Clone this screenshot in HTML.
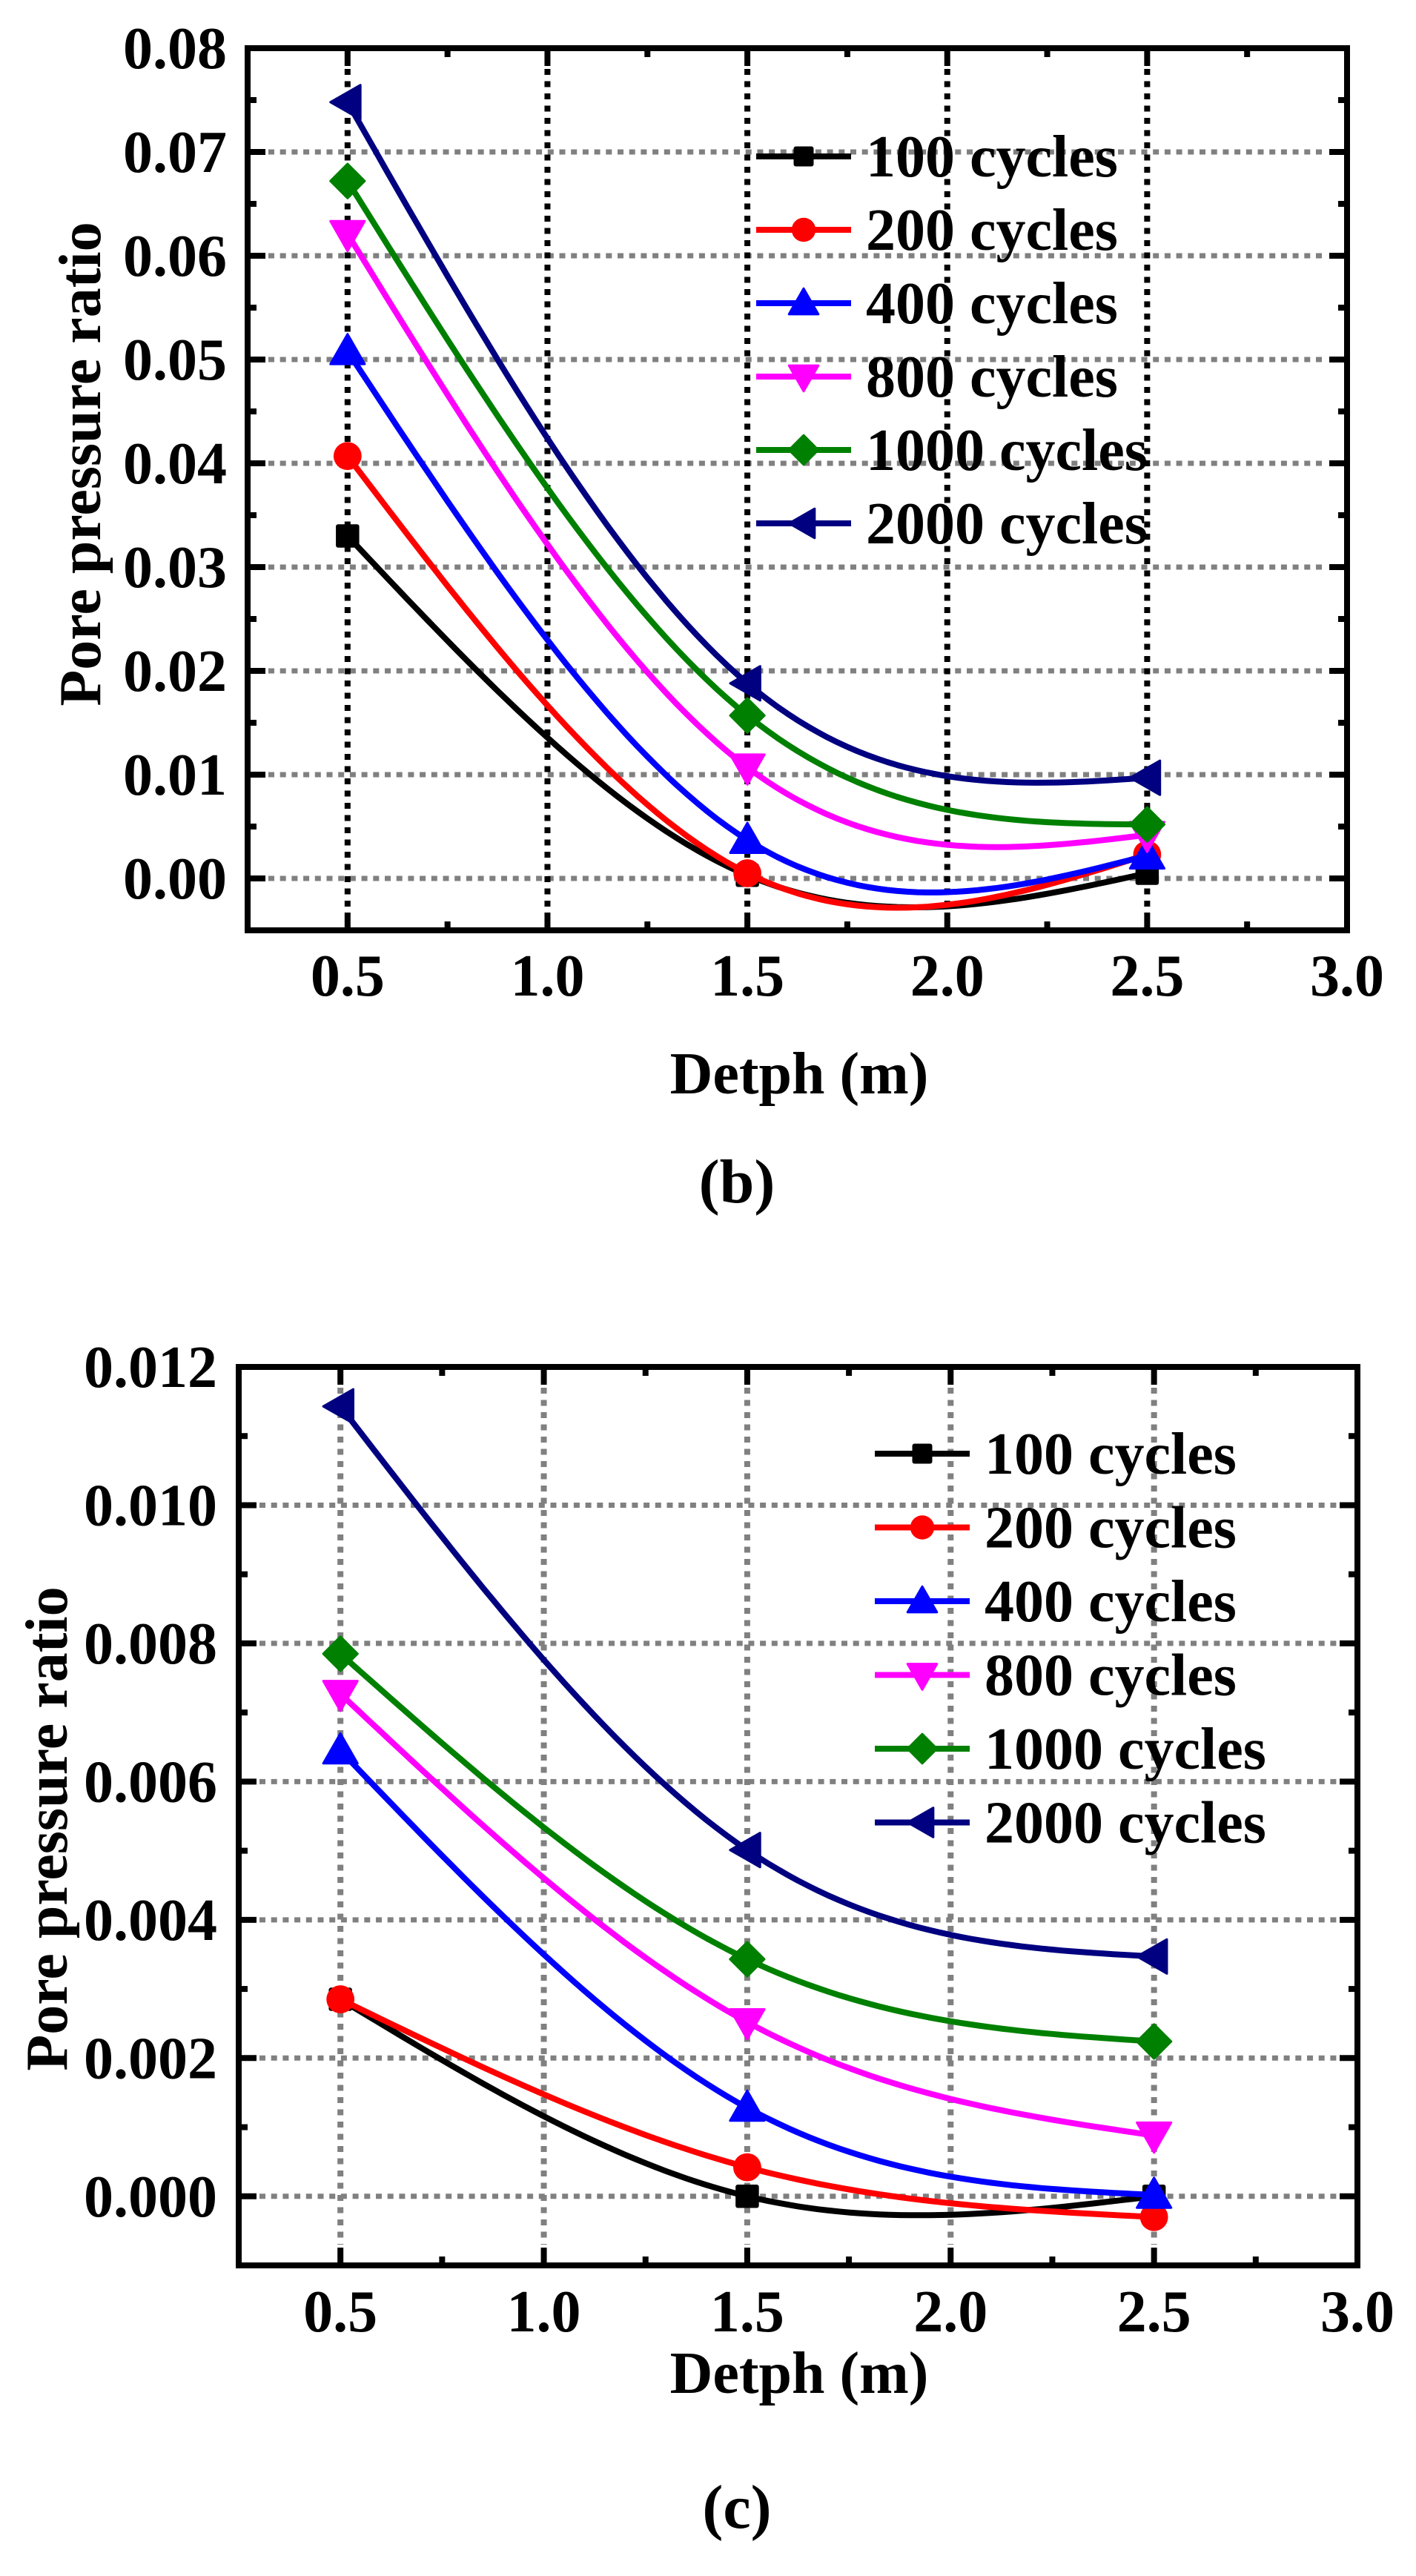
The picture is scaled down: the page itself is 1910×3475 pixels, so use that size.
<!DOCTYPE html>
<html><head><meta charset="utf-8"><style>
html,body{margin:0;padding:0;background:#fff;}
svg{display:block;}
text{font-family:"Liberation Serif",serif;font-weight:bold;fill:#000;}
</style></head><body>
<svg id="svg" width="1910" height="3475" viewBox="0 0 1910 3475" xmlns="http://www.w3.org/2000/svg"></svg>
<script>
const depths = [0.5, 1.5, 2.5];
const seriesNames = ["100 cycles","200 cycles","400 cycles","800 cycles","1000 cycles","2000 cycles"];
const b100 = [0.0330, 0.0003, 0.0005];
const b200 = [0.0407, 0.0005, 0.0023];
const b400 = [0.0508, 0.0037, 0.0022];
const b800 = [0.0621, 0.0107, 0.0042];
const b1000 = [0.0672, 0.0157, 0.0052];
const b2000 = [0.0748, 0.0188, 0.0097];
const c100 = [0.00285, 0.0000, 0.0000];
const c200 = [0.00285, 0.00042, -0.0003];
const c400 = [0.00645, 0.00128, 0.00002];
const c800 = [0.00727, 0.00252, 0.00088];
const c1000 = [0.00785, 0.00343, 0.00224];
const c2000 = [0.01143, 0.00501, 0.00347];
const xTicks = [0.5, 1.0, 1.5, 2.0, 2.5, 3.0];
const bYTicks = [0.00, 0.01, 0.02, 0.03, 0.04, 0.05, 0.06, 0.07, 0.08];
const cYTicks = [0.000, 0.002, 0.004, 0.006, 0.008, 0.010, 0.012];

const NS = "http://www.w3.org/2000/svg";
const svg = document.getElementById("svg");
const colors = ["#000000","#ff0000","#0000ff","#ff00ff","#008000","#000080"];
const markers = ["square","circle","up","down","diamond","left"];

function el(tag, attrs, parent) {
  const e = document.createElementNS(NS, tag);
  for (const k in attrs) e.setAttribute(k, attrs[k]);
  (parent || svg).appendChild(e);
  return e;
}

function spline(xs, ys, n) {
  const h = xs[1] - xs[0];
  const M1 = 6 * (ys[0] - 2 * ys[1] + ys[2]) / (4 * h * h);
  const M = [0, M1, 0];
  const pts = [];
  for (let i = 0; i < 2; i++) {
    for (let k = 0; k <= n; k++) {
      const t = k / n;
      const x = xs[i] + t * h;
      const y = (1 - t) * ys[i] + t * ys[i + 1] + (((1 - t) ** 3 - (1 - t)) * M[i] + (t ** 3 - t) * M[i + 1]) * h * h / 6;
      pts.push([x, y]);
    }
  }
  return pts;
}

function marker(g, type, cx, cy, color, s) {
  let m;
  if (type === "square") m = el("rect", {x: cx - s * 0.75, y: cy - s * 0.75, width: s * 1.5, height: s * 1.5, rx: 3, fill: color}, g);
  else if (type === "circle") m = el("circle", {cx: cx, cy: cy, r: s * 0.9, fill: color}, g);
  else {
    const r = s * 1.1;
    let p;
    if (type === "up") p = [[cx, cy - r], [cx + r, cy + r * 0.75], [cx - r, cy + r * 0.75]];
    if (type === "down") p = [[cx, cy + r], [cx + r, cy - r * 0.75], [cx - r, cy - r * 0.75]];
    if (type === "left") p = [[cx - r, cy], [cx + r * 0.75, cy - r], [cx + r * 0.75, cy + r]];
    if (type === "diamond") p = [[cx, cy - r], [cx + r, cy], [cx, cy + r], [cx - r, cy]];
    m = el("polygon", {points: p.map(q => q.join(",")).join(" "), fill: color, "stroke-linejoin": "round", stroke: color, "stroke-width": 3}, g);
  }
  return m;
}

function chart(cfg) {
  const g = el("g", {});
  
  
  const {L, R, T, B, xmin, xmax, ymin, ymax} = cfg;
  const X = v => L + (v - xmin) / (xmax - xmin) * (R - L);
  const Y = v => B - (v - ymin) / (ymax - ymin) * (B - T);
  const gg = el("g", {}, g);
  
  
  cfg.yTicks.forEach(v => {
    if (v >= ymax - 1e-9) return;
    const ln = el("line", {x1: L + 28, x2: R - 28, y1: Y(v), y2: Y(v), stroke: "#808080", "stroke-width": 7, "stroke-dasharray": "8 7.7"}, gg);
    
    
  });
  xTicks.forEach(v => {
    if (v >= xmax - 1e-9) return;
    const ln = el("line", {x1: X(v), x2: X(v), y1: T + 28, y2: B - 28, stroke: cfg.vgrid, "stroke-width": 8, "stroke-dasharray": "8 8.5"}, gg);
    
    
  });
  const tk = el("g", {stroke: "#000", "stroke-width": 8}, g);
  
  
  for (let v = xmin; v <= xmax + 1e-9; v += 0.25) {
    const major = Math.abs(v * 2 - Math.round(v * 2)) < 1e-6;
    const len = major ? 24 : 12;
    el("line", {x1: X(v), x2: X(v), y1: B, y2: B - len}, tk);
    el("line", {x1: X(v), x2: X(v), y1: T, y2: T + len}, tk);
  }
  const step = cfg.yTicks[1] - cfg.yTicks[0];
  for (let v = cfg.yTicks[0] - step / 2; v <= ymax + 1e-9; v += step / 2) {
    if (v < ymin - 1e-9) continue;
    const major = Math.abs((v - cfg.yTicks[0]) / step - Math.round((v - cfg.yTicks[0]) / step)) < 1e-6;
    const len = major ? 24 : 12;
    el("line", {x1: L, x2: L + len, y1: Y(v), y2: Y(v)}, tk);
    el("line", {x1: R, x2: R - len, y1: Y(v), y2: Y(v)}, tk);
  }
  cfg.data.forEach((ys, i) => {
    const sg = el("g", {}, g);
    
    
    const pts = spline(depths, ys, 40);
    const p = el("path", {d: "M" + pts.map(q => X(q[0]).toFixed(1) + "," + Y(q[1]).toFixed(1)).join("L"), fill: "none", stroke: colors[i], "stroke-width": 8, "stroke-linejoin": "round"}, sg);
    
    
    depths.forEach((d, j) => {
      const m = marker(sg, markers[i], X(d), Y(ys[j]), colors[i], 21);
      
      
    });
  });
  const fr = el("rect", {x: L, y: T, width: R - L, height: B - T, fill: "none", stroke: "#000", "stroke-width": 8}, g);
  
  
  xTicks.forEach(v => {
    const t = el("text", {x: X(v), y: cfg.xLabY, "font-size": 80, "text-anchor": "middle"}, g);
    t.textContent = v.toFixed(1);
    
    
  });
  cfg.yTicks.forEach(v => {
    const t = el("text", {x: cfg.yLabX, y: Y(v) + 27, "font-size": 80, "text-anchor": "end"}, g);
    t.textContent = v.toFixed(cfg.dec);
    
    
  });
  const xt = el("text", {x: 1078, y: cfg.xTitleY, "font-size": 80, "text-anchor": "middle"}, g);
  xt.textContent = "Detph (m)";
  
  
  const yt = el("text", {x: 0, y: 0, "font-size": 80, "text-anchor": "middle", transform: "translate(" + cfg.yTitleX + "," + cfg.yTitleY + ") rotate(-90)"}, g);
  yt.textContent = "Pore pressure ratio";
  
  
  const cap = el("text", {x: 994, y: cfg.capY, "font-size": 84, "font-weight": "normal", "text-anchor": "middle"}, g);
  cap.textContent = cfg.caption;
  
  
  const lg = el("g", {}, g);
  
  
  seriesNames.forEach((n, i) => {
    const y = cfg.legY + i * cfg.legDy;
    const e = el("g", {}, lg);
    
    
    el("line", {x1: cfg.legX, x2: cfg.legX + 128, y1: y, y2: y, stroke: colors[i], "stroke-width": 8}, e);
    marker(e, markers[i], cfg.legX + 64, y, colors[i], 18);
    const t = el("text", {x: cfg.legX + 148, y: y + 27, "font-size": 80}, e);
    t.textContent = n;
  });
}

chart({name: "chart-b", L: 334, R: 1817, T: 65, B: 1255, xmin: 0.25, xmax: 3.0, ymin: -0.005, ymax: 0.08,
  yTicks: bYTicks, dec: 2, data: [b100, b200, b400, b800, b1000, b2000], vgrid: "#000",
  xLabY: 1343, yLabX: 306, xTitleY: 1475, yTitleX: 135, yTitleY: 626, capY: 1622, caption: "(b)",
  legX: 1020, legY: 211, legDy: 99});
chart({name: "chart-c", L: 322, R: 1831, T: 1844, B: 3056, xmin: 0.25, xmax: 3.0, ymin: -0.001, ymax: 0.012,
  yTicks: cYTicks, dec: 3, data: [c100, c200, c400, c800, c1000, c2000], vgrid: "#808080",
  xLabY: 3145, yLabX: 293, xTitleY: 3228, yTitleX: 90, yTitleY: 2467, capY: 3410, caption: "(c)",
  legX: 1180, legY: 1961, legDy: 99.5});
</script>
</body></html>
